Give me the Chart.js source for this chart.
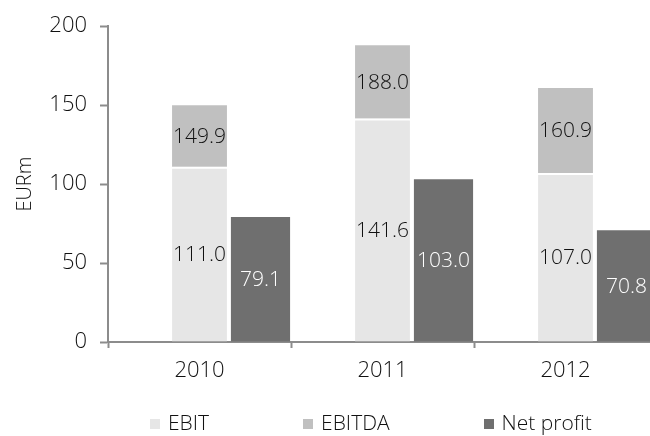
<!DOCTYPE html>
<html>
<head>
<meta charset="utf-8">
<script src="https://cdn.jsdelivr.net/npm/chart.js@4.4.0/dist/chart.umd.min.js"></script>
<style>
    body { margin: 0; overflow: hidden; background: #fff; font-family: "Open Sans", sans-serif; }
    .wrap { position: relative; width: 657px; height: 436px; }
    .legend { position: absolute; left: 150px; top: 410px; display: flex; gap: 94px; font-size: 21px; font-weight: 300; line-height: 24px; color: #111; }
    .legend span.box { display: inline-block; width: 10px; height: 10px; margin-right: 8px; vertical-align: 1px; }
</style>
</head>
<body>
<div class="wrap">
    <canvas id="myBarChart"></canvas>
    <div class="legend" id="legend"></div>
</div>
<script>
const years = ['2010', '2011', '2012'];
const ebit = [111.0, 141.6, 107.0];
const ebitda = [149.9, 188.0, 160.9];
const netProfit = [79.1, 103.0, 70.8];
const yTicks = [0, 50, 100, 150, 200];

const seriesNames = ['EBIT', 'EBITDA', 'Net profit'];
const seriesColors = ['#e6e6e6', '#c0c0c0', '#6f6f6f'];

// EBITDA sits on top of EBIT, so the segment is the difference
const ebitdaTop = ebitda.map((v, i) => +(v - ebit[i]).toFixed(1));

// labels drawn in the middle of every segment
const barLabels = {
    id: 'barLabels',
    afterDatasetsDraw(chart) {
        const ctx = chart.ctx;
        ctx.save();
        ctx.font = '300 21px "Open Sans"';
        ctx.textAlign = 'center';
        ctx.textBaseline = 'middle';
        chart.data.datasets.forEach((ds, i) => {
            if (!ds.shownValues) return;
            chart.getDatasetMeta(i).data.forEach((bar, j) => {
                const p = bar.getProps(['x', 'y', 'base'], true);
                ctx.fillStyle = ds.labelColor;
                ctx.fillText(ds.shownValues[j].toFixed(1), p.x, (p.y + p.base) / 2 + 1);
            });
        });
        ctx.restore();
    }
};

const ctxBar = document.getElementById('myBarChart').getContext('2d');
const myBarChart = new Chart(ctxBar, {
    type: 'bar',
    data: {
        labels: years,
        datasets: [{
            // empty slot, keeps the bars on the right side of each year
            label: '',
            data: years.map(() => 0),
            stack: 'empty',
            backgroundColor: 'rgba(0,0,0,0)'
        }, {
            label: seriesNames[0],
            data: ebit,
            stack: 'op',
            backgroundColor: seriesColors[0],
            borderColor: '#ffffff',
            borderWidth: { top: 2, left: 0, right: 0, bottom: 0 },
            borderSkipped: false,
            barPercentage: 0.9,
            shownValues: ebit,
            labelColor: '#111111'
        }, {
            label: seriesNames[1],
            data: ebitdaTop,
            stack: 'op',
            backgroundColor: seriesColors[1],
            barPercentage: 0.9,
            shownValues: ebitda,
            labelColor: '#111111'
        }, {
            label: seriesNames[2],
            data: netProfit,
            stack: 'net',
            backgroundColor: seriesColors[2],
            barPercentage: 0.97,
            shownValues: netProfit,
            labelColor: '#ffffff'
        }]
    },
    options: {
        responsive: true,
        maintainAspectRatio: false,
        animation: false,
        datasets: {
            bar: { categoryPercentage: 1.0 }
        },
        layout: { padding: { top: 23, left: 0, right: 0, bottom: 0 } },
        plugins: {
            legend: { display: false },
            tooltip: { enabled: false }
        },
        scales: {
            x: {
                stacked: true,
                border: { color: '#8c8c8c', width: 2 },
                grid: { offset: true, drawOnChartArea: false, drawTicks: true, tickLength: 6, tickColor: '#8c8c8c', tickWidth: 2 },
                ticks: { color: '#111', font: { family: 'Open Sans', size: 22, weight: 300 }, padding: 10 },
                afterFit: (scale) => { scale.height = 94; }
            },
            y: {
                stacked: true,
                min: 0,
                max: 200,
                afterBuildTicks: (scale) => { scale.ticks = yTicks.map(v => ({ value: v })); },
                border: { color: '#8c8c8c', width: 2 },
                grid: { drawOnChartArea: false, drawTicks: true, tickLength: 8, tickColor: '#8c8c8c', tickWidth: 2 },
                ticks: { color: '#111', font: { family: 'Open Sans', size: 22, weight: 300 }, padding: 13 },
                title: {
                    display: true,
                    text: 'EURm',
                    color: '#111',
                    font: { family: 'Open Sans', size: 20, weight: 300 },
                    padding: { top: 13, bottom: 0 }
                },
                afterFit: (scale) => { scale.width = 108; }
            }
        }
    },
    plugins: [barLabels]
});

// legend below the chart
const legendEl = document.getElementById('legend');
seriesNames.forEach((name, i) => {
    const item = document.createElement('div');
    item.innerHTML = '<span class="box" style="background:' + seriesColors[i] + '"></span>' + name;
    legendEl.appendChild(item);
});
</script>
</body>
</html>
